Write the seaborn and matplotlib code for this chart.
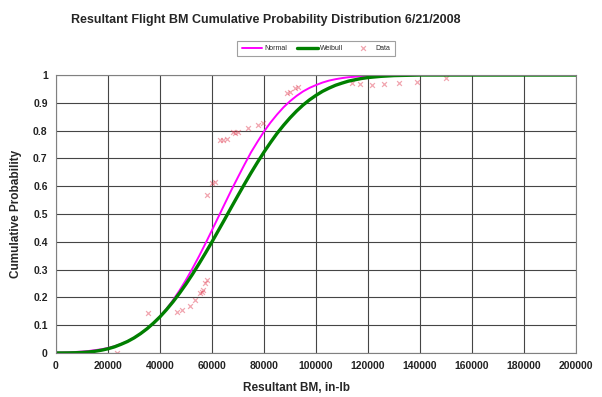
import matplotlib
matplotlib.use("Agg")
import matplotlib.pyplot as plt
import seaborn as sns
import pandas as pd

# Fitted CDF curves, sampled along the bending moment axis
bm_curve = [0, 2500, 5000, 7500, 10000, 12500, 15000, 17500, 20000, 22500,
            25000, 27500, 30000, 32500, 35000, 37500, 40000, 42500, 45000, 47500,
            50000, 52500, 55000, 57500, 60000, 62500, 65000, 67500, 70000, 72500,
            75000, 77500, 80000, 82500, 85000, 87500, 90000, 92500, 95000, 97500,
            100000, 102500, 105000, 107500, 110000, 112500, 115000, 117500, 120000,
            125000, 130000, 140000, 160000, 180000, 200000]
normal_cdf = [0.001, 0.0016, 0.002, 0.0034, 0.005, 0.0069, 0.010, 0.0132, 0.018, 0.0241,
              0.032, 0.0417, 0.054, 0.0684, 0.086, 0.1068, 0.131, 0.1587, 0.190, 0.2248,
              0.263, 0.3043, 0.348, 0.3943, 0.442, 0.4904, 0.539, 0.5871, 0.633, 0.6783,
              0.722, 0.7602, 0.797, 0.8292, 0.858, 0.8840, 0.906, 0.9249, 0.941, 0.9538,
              0.964, 0.9730, 0.980, 0.9850, 0.989, 0.9921, 0.994, 0.9961, 0.997,
              0.9987, 0.999, 1.0, 1.0, 1.0, 1.0]
weibull_cdf = [0.0, 0.0, 0.0002, 0.0007, 0.0017, 0.0034, 0.006, 0.0099, 0.015, 0.0219,
               0.031, 0.0412, 0.054, 0.0694, 0.087, 0.1074, 0.130, 0.1559, 0.184, 0.2149,
               0.248, 0.2835, 0.321, 0.3598, 0.400, 0.4415, 0.483, 0.5254, 0.567, 0.6080,
               0.648, 0.6863, 0.723, 0.7574, 0.790, 0.8191, 0.846, 0.8703, 0.892, 0.9108,
               0.927, 0.9414, 0.953, 0.9632, 0.971, 0.9781, 0.983, 0.9876, 0.991,
               0.9953, 0.998, 1.0, 1.0, 1.0, 1.0]

# Measured flight data
data_bm = [23500, 35400, 46500, 48500, 51500, 53500, 55400, 56000, 56500, 57300,
           58000, 58000, 60000, 61000, 63000, 64200, 65700, 68000, 68800, 70000,
           73800, 77700, 79600, 88800, 90000, 92000, 93000, 114000, 117000, 121500,
           126000, 132000, 139000, 150000]
data_prob = [0.0, 0.144, 0.147, 0.155, 0.17, 0.19, 0.215, 0.22, 0.227, 0.25,
             0.263, 0.568, 0.61, 0.615, 0.766, 0.766, 0.77, 0.795, 0.79, 0.795,
             0.81, 0.82, 0.826, 0.935, 0.94, 0.953, 0.957, 0.97, 0.968, 0.965,
             0.968, 0.972, 0.975, 0.99]

sns.set_style("white")
plt.rcParams["font.family"] = ["Liberation Sans", "DejaVu Sans"]

curves = pd.DataFrame({"bm": bm_curve, "Normal": normal_cdf, "Weibull": weibull_cdf})
points = pd.DataFrame({"bm": data_bm, "prob": data_prob})

fig = plt.figure(figsize=(6.02, 3.97), dpi=100)
ax = fig.add_axes([0.093, 0.111, 0.864, 0.700])

sns.lineplot(data=curves, x="bm", y="Normal", ax=ax, color="#ff00ff", lw=1.4,
             label="Normal", solid_joinstyle="round")
sns.lineplot(data=curves, x="bm", y="Weibull", ax=ax, color="#008000", lw=2.4,
             label="Weibull", solid_joinstyle="round")
sns.scatterplot(data=points, x="bm", y="prob", ax=ax, marker="x", color="#e03a50",
                alpha=0.45, s=12, linewidth=0.9, label="Data")

ax.set_xlim(0, 200000)
ax.set_ylim(0, 1)
ax.set_xticks(range(0, 200001, 20000))
ax.set_yticks([i / 10 for i in range(11)])
ax.set_yticklabels(["0"] + [f"0.{i}" for i in range(1, 10)] + ["1"])
ax.grid(True, color="#454545", lw=0.8)
ax.set_axisbelow(True)
for s in ax.spines.values():
    s.set_color("#808080")
    s.set_linewidth(0.8)
ax.tick_params(axis="both", labelsize=7.5, length=3, color="#808080", pad=3)
for lbl in ax.get_xticklabels() + ax.get_yticklabels():
    lbl.set_fontweight("bold")
    lbl.set_color("#222222")

ax.set_xlabel("Resultant BM, in-lb", fontsize=8.5, fontweight="bold")
ax.xaxis.set_label_coords(0.463, -0.105)
ax.set_ylabel("Cumulative Probability", fontsize=8.5, fontweight="bold", labelpad=8)
fig.suptitle("Resultant Flight BM Cumulative Probability Distribution 6/21/2008",
             x=0.442, y=0.965, fontsize=9, fontweight="bold")

leg = ax.legend(loc="lower center", bbox_to_anchor=(0.50, 1.055), ncol=3, fontsize=5,
                frameon=True, fancybox=False, edgecolor="#888888", handlelength=3.0,
                columnspacing=1.4, borderpad=0.6, handletextpad=0.3)
leg.get_frame().set_linewidth(0.8)

fig.savefig("out.png", dpi=100)
